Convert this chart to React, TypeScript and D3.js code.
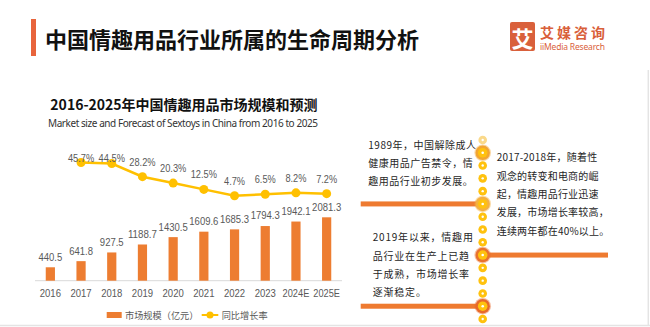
import React from "react";
import * as d3 from "d3";

const years = ["2016", "2017", "2018", "2019", "2020", "2021", "2022", "2023", "2024E", "2025E"];
const marketSize = [440.5, 641.8, 927.5, 1188.7, 1430.5, 1609.6, 1685.3, 1794.3, 1942.1, 2081.3];
const growthYears = ["2017", "2018", "2019", "2020", "2021", "2022", "2023", "2024E", "2025E"];
const growthRate = [45.7, 44.5, 28.2, 20.3, 12.5, 4.7, 6.5, 8.2, 7.2];

const pageTitle = "中国情趣用品行业所属的生命周期分析";
const chartTitle = "2016-2025年中国情趣用品市场规模和预测";
const chartSubtitle = "Market size and Forecast of Sextoys in China from 2016 to 2025";
const legendBar = "市场规模（亿元）";
const legendLine = "同比增长率";

const block1 = ["1989年，中国解除成人", "健康用品广告禁令，情", "趣用品行业初步发展。"];
const block2 = ["2017-2018年，随着性", "观念的转变和电商的崛", "起，情趣用品行业迅速", "发展，市场增长率较高，", "连续两年都在40%以上。"];
const block3 = ["2019年以来，情趣用", "品行业在生产上已趋", "于成熟，市场增长率", "逐渐稳定。"];

const dotCount = 15;
const bigDots = [1, 5, 9, 13];
const bigDotRing = ["#F2A531", "#F4B040", "#E9722E", "#E8692A"];

const CJK = "'Noto Sans CJK SC', 'Noto Sans', sans-serif";
const NUM = "'Liberation Sans', 'Noto Sans', sans-serif";
const SUB = "'Noto Sans', 'Noto Sans CJK SC', sans-serif";
const ORANGE = "#ED7D31";
const YELLOW = "#FFC000";
const GRAY = "#595959";

// approximate narrow (Calibri-like) advance widths for number labels
const numWidth = (s: string) =>
  s.split("").reduce((w, c) => w + (c === "." ? 2.6 : c === "%" ? 7.8 : c === "E" ? 5.5 : 5.3), 0);

function NumText(props: { x: number; y: number; s: string }) {
  return (
    <text
      x={props.x}
      y={props.y}
      textAnchor="middle"
      dominantBaseline="central"
      fontFamily={NUM}
      fontSize={10.8}
      fill={GRAY}
      textLength={numWidth(props.s)}
      lengthAdjust="spacingAndGlyphs"
    >
      {props.s}
    </text>
  );
}

export default function App() {
  const x = d3.scaleBand<string>().domain(years).range([35, 342]).padding(0);
  const yBar = d3.scaleLinear().domain([0, 2500]).range([280.7, 280.7 - 2500 * 0.03046]);
  const yLine = d3.scaleLinear().domain([0, 50]).range([199.5, 159.05]);
  const bw = x.step() * 0.3;
  const cx = (k: string) => (x(k) as number) + x.step() / 2;

  const lineGen = d3
    .line<number>()
    .x((_, i) => cx(growthYears[i]))
    .y((d) => yLine(d));

  const tlX = 482.7;
  const dotY = d3.scaleLinear().domain([0, dotCount - 1]).range([140, 319]);

  return (
    <svg
      width={650}
      height={327}
      style={{ position: "absolute", left: 0, top: 0, background: "#fff" }}
    >
      <rect x={0} y={0} width={650} height={327} fill="#fff" />
      {/* frame */}
      <line x1={0} x2={650} y1={325.5} y2={325.5} stroke="#e4e4e4" strokeWidth={1.5} />
      <line x1={648.3} x2={648.3} y1={70} y2={326} stroke="#e4e4e4" strokeWidth={1.5} />

      {/* page title */}
      <rect x={31} y={19} width={5} height={37} fill="#E8643C" />
      <text x={45} y={38} dominantBaseline="central" fontFamily={CJK} fontWeight={700} fontSize={22} fill="#111">
        {pageTitle}
      </text>

      {/* logo */}
      <rect x={510} y={22} width={25} height={29} rx={2} fill="#D9603B" />
      <text x={522.5} y={37} textAnchor="middle" dominantBaseline="central" fontFamily={CJK} fontWeight={700} fontSize={22} fill="#fff">
        艾
      </text>
      <text x={540} y={31.5} dominantBaseline="central" fontFamily={CJK} fontWeight={700} fontSize={14} letterSpacing={3} fill="#D9603B">
        艾媒咨询
      </text>
      <text x={540} y={46} dominantBaseline="central" fontFamily={SUB} fontSize={8.5} fill="#D9603B" textLength={65}>
        iiMedia Research
      </text>

      {/* chart titles */}
      <text x={184} y={104} textAnchor="middle" dominantBaseline="central" fontFamily={CJK} fontWeight={700} fontSize={14} fill="#111">
        {chartTitle}
      </text>
      <text x={183} y={123} textAnchor="middle" dominantBaseline="central" fontFamily={SUB} fontSize={10} fill="#333" textLength={270}>
        {chartSubtitle}
      </text>

      {/* axis line */}
      <line x1={35} x2={342} y1={yBar(0)} y2={yBar(0)} stroke="#d9d9d9" strokeWidth={1} />

      {/* bars */}
      {years.map((yr, i) => (
        <g key={yr}>
          <rect x={cx(yr) - bw / 2} y={yBar(marketSize[i])} width={bw} height={yBar(0) - yBar(marketSize[i])} fill={ORANGE} />
          <NumText x={cx(yr)} y={yBar(marketSize[i]) - 10.6} s={marketSize[i].toFixed(1)} />
          <NumText x={cx(yr)} y={293.3} s={yr} />
        </g>
      ))}

      {/* line */}
      <path d={lineGen(growthRate) || ""} fill="none" stroke={YELLOW} strokeWidth={2.5} />
      {growthRate.map((v, i) => (
        <g key={growthYears[i]}>
          <circle cx={cx(growthYears[i])} cy={yLine(v)} r={4.5} fill={YELLOW} />
          <NumText x={cx(growthYears[i])} y={Math.max(yLine(v) - 15, 158.3)} s={v.toFixed(1) + "%"} />
        </g>
      ))}

      {/* legend */}
      <rect x={106.7} y={312} width={15} height={6} fill={ORANGE} />
      <text x={125} y={315} dominantBaseline="central" fontFamily={CJK} fontSize={9.2} fill={GRAY}>
        {legendBar}
      </text>
      <line x1={201.7} x2={218.3} y1={315} y2={315} stroke={YELLOW} strokeWidth={2} />
      <circle cx={210} cy={315} r={3.5} fill={YELLOW} />
      <text x={221.7} y={315} dominantBaseline="central" fontFamily={CJK} fontSize={9.2} fill={GRAY}>
        {legendLine}
      </text>

      {/* timeline connectors */}
      <rect x={360.7} y={dotY(5) - 2.5} width={tlX - 360.7} height={5} fill="#EE7A30" />
      <rect x={tlX} y={dotY(9) - 2.5} width={608 - tlX} height={5} fill="#EE7A30" />
      <rect x={360.7} y={dotY(13) - 2.5} width={tlX - 360.7} height={5} fill="#EE7A30" />

      {/* timeline dots */}
      {d3.range(dotCount).map((i) => {
        const bi = bigDots.indexOf(i);
        const cy = dotY(i);
        if (bi >= 0) {
          return (
            <g key={i}>
              <circle cx={tlX} cy={cy} r={8.3} fill={bigDotRing[bi]} opacity={0.45} />
              <circle cx={tlX} cy={cy} r={7.2} fill={bigDotRing[bi]} />
              <circle cx={tlX} cy={cy} r={4.8} fill="#FFC20E" />
              <circle cx={tlX} cy={cy} r={1.3} fill="#fff" />
            </g>
          );
        }
        return (
          <g key={i}>
            <circle cx={tlX} cy={cy} r={4.3} fill={i === 0 ? "#FAD98A" : "#FFC20E"} />
            <circle cx={tlX} cy={cy} r={1.2} fill="#fff" />
          </g>
        );
      })}

      {/* text blocks */}
      {block1.map((t, i) => (
        <text key={t} x={368.3} y={144 + i * 18.35} dominantBaseline="central" fontFamily={CJK} fontSize={10} letterSpacing={0.5} fill="#262626">
          {t}
        </text>
      ))}
      {block2.map((t, i) => (
        <text key={t} x={496.7} y={156.7 + i * 18.33} dominantBaseline="central" fontFamily={CJK} fontSize={10} letterSpacing={0.2} fill="#262626">
          {t}
        </text>
      ))}
      {block3.map((t, i) => (
        <text key={t} x={372.7} y={236.7 + i * 18.33} dominantBaseline="central" fontFamily={CJK} fontSize={10} letterSpacing={0.8} fill="#262626">
          {t}
        </text>
      ))}
    </svg>
  );
}
